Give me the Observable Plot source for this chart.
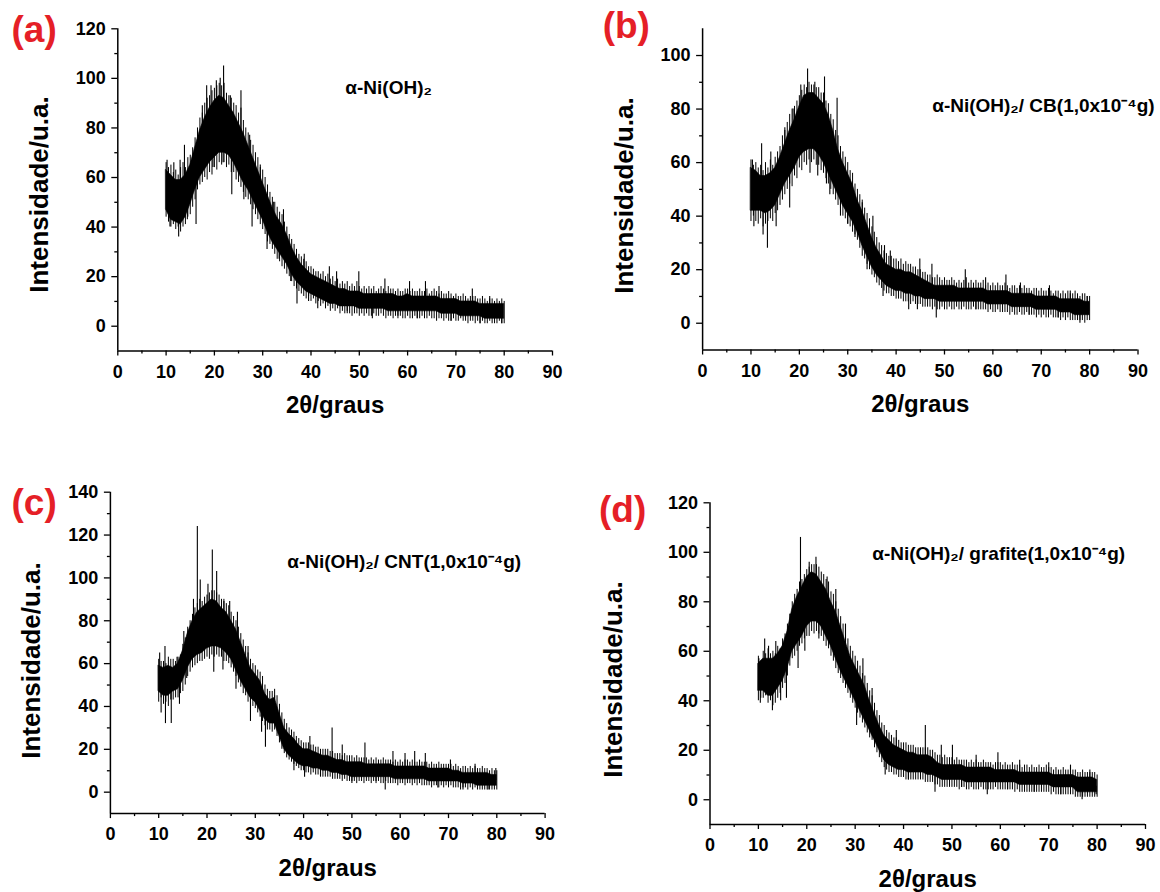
<!DOCTYPE html>
<html><head><meta charset="utf-8">
<script src="https://cdn.jsdelivr.net/npm/d3@7"></script>
<script src="https://cdn.jsdelivr.net/npm/@observablehq/plot@0.6"></script>
<style>
body{margin:0;background:#fff;}
#wrap{position:relative;width:1160px;height:892px;overflow:hidden;background:#fff;}
.panel{position:absolute;}
.panel svg{overflow:visible;}
.panel svg g[aria-label="x-axis tick label"], .panel svg g[aria-label="y-axis tick label"],
.panel svg g[aria-label="x-axis tick label"] text, .panel svg g[aria-label="y-axis tick label"] text{
  font-size:18px !important; font-weight:bold !important; font-family:'Liberation Sans', Arial, sans-serif !important; fill:#000 !important;}
</style></head><body><div id="wrap"></div>
<script>
// ---- shared axis data ----
const degrees = [10,11,12,13,14,15,16,17,18,19,20,21,22,23,24,25,26,27,28,29,30,31,32,33,34,35,36,37,38,39,40,41,42,43,44,45,46,47,48,49,50,51,52,53,54,55,56,57,58,59,60,61,62,63,64,65,66,67,68,69,70,71,72,73,74,75,76,77,78,79,80];
const halfDegrees = [10,10.5,11,11.5,12,12.5,13,13.5,14,14.5,15,15.5,16,16.5,17,17.5,18,18.5,19,19.5,
  20,20.5,21,21.5,22,22.5,23,23.5,24,24.5,25,25.5,26,26.5,27,27.5,28,28.5,29,29.5,
  30,30.5,31,31.5,32,32.5,33,33.5,34,34.5,35,35.5,36,36.5,37,37.5,38,38.5,39,39.5,
  40,40.5,41,41.5,42,42.5,43,43.5,44,44.5,45,45.5,46,46.5,47,47.5,48,48.5,49,49.5,
  50,50.5,51,51.5,52,52.5,53,53.5,54,54.5,55,55.5,56,56.5,57,57.5,58,58.5,59,59.5,
  60,60.5,61,61.5,62,62.5,63,63.5,64,64.5,65,65.5,66,66.5,67,67.5,68,68.5,69,69.5,
  70,70.5,71,71.5,72,72.5,73,73.5,74,74.5,75,75.5,76,76.5,77,77.5,78,78.5,79,79.5,80];
const xTicks = [0,10,20,30,40,50,60,70,80,90];
const xMinorTicks = [5,15,25,35,45,55,65,75,85];
const yTicks120 = [0,20,40,60,80,100,120];
const yMinor120 = [10,30,50,70,90,110];
const yTicks110 = [0,20,40,60,80,100];
const yMinor110 = [10,30,50,70,90];
const yTicks140 = [0,20,40,60,80,100,120,140];
const yMinor140 = [10,30,50,70,90,110,130];
const xLabel = "2θ/graus";
const yLabel = "Intensidade/u.a.";
const panelLetters = ["(a)","(b)","(c)","(d)"];
const sampleNames = ["α-Ni(OH)₂","α-Ni(OH)₂/ CB(1,0x10⁻⁴g)","α-Ni(OH)₂/ CNT(1,0x10⁻⁴g)","α-Ni(OH)₂/ grafite(1,0x10⁻⁴g)"];

// ---- (a) alpha-Ni(OH)2 ----
// dense core of the noise band, per degree
const loA = [47,43,42,41,44,49,55,60,63,66,68,70,70,69,66,62,58,55,51,47,43,38,34,31,28,25,21,18,16,14,13,12,11,10,9,9,8,8,8,8,7,7,7,7,7,7,6,6,6,6,6,6,6,6,6,6,6,5,5,5,5,4,4,4,4,4,3,3,3,3,3];
const hiA = [63,61,59,59,61,65,72,79,84,88,91,93,92,89,86,82,78,73,68,63,58,53,48,44,41,37,32,28,25,23,21,20,19,18,17,16,15,15,14,14,14,13,13,13,13,13,13,13,12,12,13,12,12,12,12,12,12,11,11,11,11,10,10,10,10,9,9,9,9,9,9];
// reach of the noise, per half degree
const topA = [66,64,65,62,63,61,64,66,64,68, 69,72,76,80,84,86,90,92,93,95, 96,97,98,97,98,94,93,92,90,89, 86,88,83,80,78,75,73,70,68,64,
  63,60,57,54,52,50,48,46,45,42, 40,37,35,33,31,29,28,27,26,24, 24,23,22,22,21,22,20,21,19,20, 18,19,17,18,17,18,16,17,16,18,
  16,15,16,15,16,15,16,14,15,16, 15,14,16,15,15,14,15,14,14,15, 15,14,15,14,14,15,14,14,15,13, 14,15,14,13,14,13,13,14,13,12,
  13,12,12,13,12,11,12,12,12,11, 11,12,11,10,11,11,10,11,10,11, 10];
const botA = [44,42,40,41,39,40,38,40,41,44, 45,48,51,55,57,58,60,59,62,61, 64,63,66,65,66,64,65,62,62,59, 58,56,54,52,51,49,47,45,43,41,
  39,37,34,33,31,29,27,26,24,23, 21,20,18,16,15,14,13,12,11,12, 10,11,9,10,8,9,7,8,6,7, 6,7,5,6,5,6,5,4,5,5,
  4,5,4,5,4,4,5,4,4,5, 4,3,4,4,3,4,3,4,3,3, 4,3,3,4,3,3,4,3,3,4, 3,3,2,3,3,2,3,2,2,3,
  2,2,3,2,2,1,2,2,1,2, 1,2,1,1,2,1,1,1,2,1, 1];
const spikesA = [[10.2,67],[10.8,40],[11.6,66],[12.6,36],[12.9,67],[13.8,73],[14.4,43],[16.2,41],[17.5,89],[18.4,97],[19.3,97],[19.7,64],[20.4,99],[21.2,100],[21.8,66],[21.9,105],[23.3,93],[23.6,53],[25.5,95],[26.1,51],[27.3,77],[27.8,40],[29.5,65],[30.9,31],[32.2,50],[33.4,27],[34.3,47],[35.8,18],[37.1,9],[38.6,29],[39.5,10],[41.4,7],[43.8,24],[45.3,22],[47.5,5],[49.9,22],[52.7,3],[55.3,19],[58.0,4],[60.4,18],[62.0,3],[63.7,18],[66.5,16],[69.0,2],[73.4,15],[75.0,1],[77.0,12],[79.5,1]];

// ---- (b) alpha-Ni(OH)2 / CB ----
const loB = [42,42,42,41,42,44,48,52,55,58,62,64,65,65,63,60,56,52,48,44,41,38,34,29,25,21,18,16,14,13,12,12,11,11,10,10,9,9,9,8,8,8,8,8,8,8,8,8,8,7,7,7,7,7,6,6,6,6,6,5,5,5,5,5,4,4,4,3,3,3,3];
const hiB = [58,57,55,55,56,58,62,67,72,76,81,85,86,86,84,82,78,72,65,60,56,52,46,42,37,32,28,25,22,21,20,20,19,19,18,17,16,15,14,14,14,14,14,13,13,13,13,13,13,12,12,12,12,12,11,11,11,11,11,10,10,10,10,10,9,9,9,9,9,8,8];
const topB = [61,59,60,58,59,57,60,58,61,59, 62,64,66,70,72,75,78,80,81,83, 85,87,89,88,90,89,89,88,88,86, 86,83,82,78,76,72,70,66,64,62,
  60,57,56,52,50,48,46,43,41,39, 36,34,32,30,29,27,26,25,25,24, 24,23,24,22,23,22,22,21,21,20, 20,19,19,18,18,17,17,18,17,16,
  17,16,16,17,16,15,16,15,16,17, 15,16,15,16,15,15,16,14,15,14, 15,14,15,14,14,15,14,13,14,14, 13,14,13,14,13,13,12,13,13,12,
  13,12,12,13,12,11,12,12,11,12, 11,12,11,11,12,11,10,11,11,10, 10];
const botB = [38,40,38,37,39,36,37,38,39,38, 41,42,44,46,48,50,52,51,55,54, 58,57,60,59,61,60,61,59,59,57, 56,54,52,50,48,46,44,43,40,39,
  37,36,34,33,31,28,25,24,22,20, 18,17,15,14,13,12,11,11,10,10, 9,9,9,8,8,8,7,8,7,7, 7,6,6,6,6,5,6,5,5,6,
  5,5,6,5,5,6,5,5,6,5, 5,5,6,5,5,5,5,5,4,5, 4,4,5,4,4,4,4,3,4,3, 3,4,3,3,4,3,3,3,2,3,
  2,3,2,2,3,2,2,2,1,2, 1,2,1,1,1,1,1,1,0,1, 1];
const spikesB = [[10.3,61],[10.6,36],[12.2,67],[12.5,33],[13.4,28],[14.1,64],[15.2,36],[17.0,73],[18.0,43],[18.7,80],[20.3,89],[21.7,95],[22.2,56],[23.2,90],[23.8,55],[25.2,92],[25.6,52],[26.3,48],[27.8,84],[28.5,40],[30.0,37],[31.5,32],[33.0,45],[34.0,20],[35.2,40],[37.3,10],[37.6,29],[38.8,27],[42.6,5],[44.4,5],[44.9,24],[47.4,22],[48.3,2],[54.3,20],[56.5,5],[58.5,17],[62.7,18],[65.7,15],[67.5,3],[71.7,14],[73.5,2],[76.0,12],[78.0,0],[79.5,10]];

// ---- (c) alpha-Ni(OH)2 / CNT ----
const loC = [47,45,45,47,48,52,58,62,64,65,67,68,68,67,65,62,57,52,48,44,42,38,34,32,32,26,20,17,15,13,12,12,11,11,10,10,9,9,8,8,7,7,7,7,7,7,7,7,7,6,6,6,6,6,6,6,5,5,5,5,5,5,5,4,4,4,3,3,3,3,3];
const hiC = [59,58,59,58,60,66,74,80,84,86,88,90,89,86,84,80,76,70,64,58,55,52,46,43,44,37,30,27,25,22,20,20,19,18,17,17,16,15,15,14,14,14,14,13,13,13,13,13,13,12,12,12,12,12,12,12,11,11,11,11,11,10,10,9,9,9,9,9,9,8,8];
const topC = [62,61,61,60,63,62,62,61,63,64, 69,72,77,80,83,86,88,90,89,91, 92,93,94,94,93,92,90,90,88,87, 84,82,80,77,74,71,68,65,62,60,
  59,57,56,54,50,48,47,47,48,45, 41,37,34,32,30,29,28,26,25,24, 23,23,23,22,22,21,21,20,20,20, 20,19,19,18,18,18,17,18,17,17,
  17,16,17,16,16,16,16,15,16,15, 16,15,15,16,15,15,15,14,15,14, 15,14,15,15,14,15,14,14,15,14, 14,14,13,14,13,13,14,13,13,13,
  13,13,12,13,12,11,12,12,11,12, 11,12,11,11,12,11,11,10,11,10, 10];
const botC = [42,44,41,42,40,43,43,44,44,46, 47,50,54,56,58,59,60,61,61,62, 63,62,64,63,64,63,63,61,61,60, 58,56,54,51,49,46,45,42,41,40,
  39,37,35,33,31,29,29,28,29,26, 23,20,18,16,15,14,13,12,11,10, 10,9,9,8,9,8,8,8,7,7, 7,7,6,6,6,6,5,6,5,5,
  5,5,4,5,5,4,5,5,4,5, 4,5,4,4,5,4,4,4,4,3, 4,4,3,4,4,3,4,3,4,3, 3,3,3,2,3,3,2,3,2,3,
  2,3,2,2,2,1,2,2,1,2, 1,2,1,1,1,1,1,1,1,1, 1];
const spikesC = [[10.2,65],[10.5,37],[11.3,68],[11.4,32],[12.6,32],[13.8,63],[14.3,41],[15.2,75],[15.8,53],[17.2,90],[18.0,124],[18.6,99],[19.7,70],[20.2,97],[21.1,113],[21.4,56],[22.0,103],[23.3,57],[23.5,89],[24.7,89],[26.0,48],[26.3,84],[28.5,68],[29.0,33],[31.3,28],[32.1,21],[34.0,45],[36.5,27],[38.0,10],[40.2,7],[41.3,26],[43.5,7],[45.9,30],[48.0,22],[50.0,4],[52.7,23],[55.0,5],[56.9,1],[58.5,19],[61.0,18],[63.0,19],[65.2,18],[67.8,2],[70.4,15],[73.0,1],[75.5,13],[78.2,1],[79.8,11]];

// ---- (d) alpha-Ni(OH)2 / grafite ----
const loD = [44,44,42,42,45,48,53,60,63,66,70,72,72,70,66,62,57,52,48,44,40,36,32,28,24,20,16,14,13,12,12,11,11,11,11,10,10,9,8,8,8,8,8,7,7,7,7,7,7,7,7,7,7,7,6,6,6,6,6,6,6,5,5,5,5,5,3,3,3,3,3];
const hiD = [55,57,57,57,59,62,68,77,82,86,90,92,91,88,85,80,76,70,64,58,54,50,46,40,35,30,26,24,22,21,20,19,19,18,18,18,17,15,14,14,14,14,14,13,13,13,13,13,13,12,12,12,12,12,11,11,11,11,11,11,11,10,10,10,10,10,9,9,9,9,8];
const topD = [58,56,60,59,61,59,60,59,62,61, 65,67,71,75,80,83,85,87,89,91, 93,94,95,95,95,94,92,91,89,88, 84,83,80,77,74,71,68,65,62,60,
  58,56,54,51,50,47,44,42,39,36, 34,31,30,28,27,26,25,25,24,23, 23,23,22,22,22,21,21,21,21,21, 21,20,20,19,18,18,17,18,17,17,
  17,16,17,16,16,16,16,15,16,15, 16,15,15,16,15,15,15,14,15,15, 15,14,15,14,14,15,14,14,14,13, 14,14,13,14,13,13,14,13,13,14,
  13,13,12,13,12,12,13,12,12,13, 12,12,11,11,12,11,11,11,11,11, 10];
const botD = [40,41,41,42,39,40,38,39,41,43, 45,47,50,54,57,58,60,62,63,65, 66,66,68,67,68,67,66,64,62,61, 58,56,53,51,49,47,45,43,41,39,
  37,35,33,31,29,27,25,24,21,19, 17,15,13,12,11,11,10,10,9,9, 9,8,8,8,8,8,8,8,8,7, 7,7,7,6,6,5,5,5,5,5,
  5,5,5,4,5,5,4,4,5,4, 4,4,5,4,4,4,4,4,5,4, 4,4,4,4,4,4,3,4,3,3, 3,3,3,3,3,3,3,3,3,3,
  3,2,3,2,2,2,2,2,2,2, 2,1,1,1,1,1,1,1,1,1, 1];
const spikesD = [[10.1,57],[10.4,39],[11.3,65],[12.1,62],[12.9,36],[13.6,64],[14.6,40],[15.8,41],[16.6,75],[18.2,53],[18.5,88],[18.7,106],[19.6,60],[20.5,96],[21.9,98],[22.5,65],[24.2,90],[25.5,62],[26.0,85],[28.0,71],[30.3,30],[31.6,57],[33.5,45],[36.2,10],[38.5,28],[41.0,8],[44.5,30],[46.5,3],[47.8,22],[50.1,22],[52.0,5],[55.0,18],[57.3,2],[59.5,19],[61.5,4],[64.0,16],[67.0,3],[70.0,15],[72.5,2],[74.5,14],[76.9,0],[78.5,12],[79.8,2]];

// ---- layout (pixels) ----
const W = 580, H = 446;
const layout = [
  {left:0,   top:0,   ml:117.3, mr:28,   mt:28.3, mb:95.5, yMax:120, yT:yTicks120, yM:yMinor120,
   lo:loA, hi:hiA, top_:topA, bot:botA, sp:spikesA, letter:[11,41], annot:[344.8,93], yLab:[38.9,194]},
  {left:580, top:0,   ml:122.1, mr:22.5, mt:28.25,mb:96.5, yMax:110, yT:yTicks110, yM:yMinor110,
   lo:loB, hi:hiB, top_:topB, bot:botB, sp:spikesB, letter:[22.2,37.5], annot:[351.7,111.5], yLab:[44.4,195]},
  {left:0,   top:446, ml:109.9, mr:35.4, mt:45.7, mb:78.9, yMax:140, yT:yTicks140, yM:yMinor140,
   lo:loC, hi:hiC, top_:topC, bot:botC, sp:spikesC, letter:[11,68], annot:[286.7,121], yLab:[31.4,214]},
  {left:580, top:446, ml:129.5, mr:15,   mt:56.3, mb:68,   yMax:120, yT:yTicks120, yM:yMinor120,
   lo:loD, hi:hiD, top_:topD, bot:botD, sp:spikesD, letter:[18.5,75], annot:[291.7,113], yLab:[33.3,233]}
];

const font = "'Liberation Sans', Arial, Helvetica, sans-serif";
const wrap = document.getElementById("wrap");

layout.forEach((p, k) => {
  const band = degrees.map((d, i) => ({d, lo: p.lo[i], hi: p.hi[i]}));
  const reach = halfDegrees.map((d, i) => ({d, b: p.bot[i], t: p.top_[i]}));
  const spikes = p.sp.map(([d, v]) => {
    const i = Math.max(0, Math.min(degrees.length - 1, Math.round(d) - degrees[0]));
    return {d, v, base: (p.lo[i] + p.hi[i]) / 2};
  });
  const at = (x, y) => ({frameAnchor: "top-left", dx: x - p.ml, dy: y - p.mt});
  const frameBottom = H - p.mb;
  const frameCx = (p.ml + (W - p.mr)) / 2;

  const chart = Plot.plot({
    width: W, height: H,
    marginLeft: p.ml, marginRight: p.mr, marginTop: p.mt, marginBottom: p.mb,
    x: {domain: [0, 90]},
    y: {domain: [-10, p.yMax]},
    style: {fontFamily: font, fontSize: "18px", fontWeight: "bold", color: "#000", background: "transparent"},
    marks: [
      Plot.areaY(band, {x: "d", y1: "lo", y2: "hi", fill: "#000", stroke: "#000", strokeWidth: 0.6}),
      Plot.ruleX(reach, {x: "d", y1: "b", y2: "t", stroke: "#000", strokeWidth: 1}),
      Plot.ruleX(spikes, {x: "d", y1: "base", y2: "v", stroke: "#000", strokeWidth: 1.1}),
      Plot.axisX(xTicks, {tickSize: 5, tickPadding: 9, strokeWidth: 1.3, fontSize: 18, fontWeight: "bold", label: null}),
      Plot.axisX(xMinorTicks, {tickSize: 3, strokeWidth: 1.3, tickFormat: () => "", label: null}),
      Plot.axisY(p.yT, {tickSize: 6, tickPadding: 6, strokeWidth: 1.3, fontSize: 18, fontWeight: "bold", label: null}),
      Plot.axisY(p.yM, {tickSize: 3, strokeWidth: 1.3, tickFormat: () => "", label: null}),
      Plot.ruleX([0], {stroke: "#000", strokeWidth: 1.5}),
      Plot.ruleY([-10], {stroke: "#000", strokeWidth: 1.5}),
      Plot.text([panelLetters[k]], {text: d => d, ...at(p.letter[0], p.letter[1]), textAnchor: "start", lineAnchor: "bottom",
        fill: "#e51f27", fontSize: 37, fontWeight: "bold"}),
      Plot.text([sampleNames[k]], {text: d => d, ...at(p.annot[0], p.annot[1]), textAnchor: "start", lineAnchor: "bottom",
        fill: "#000", fontSize: 19, fontWeight: "bold"}),
      Plot.text([xLabel], {text: d => d, ...at(frameCx, frameBottom + 62), textAnchor: "middle", lineAnchor: "bottom",
        fill: "#000", fontSize: 24, fontWeight: "bold"}),
      Plot.text([yLabel], {text: d => d, ...at(p.yLab[0], p.yLab[1]), textAnchor: "middle", lineAnchor: "middle", rotate: -90,
        fill: "#000", fontSize: 26, fontWeight: "bold"})
    ]
  });
  const div = document.createElement("div");
  div.className = "panel";
  div.style.left = p.left + "px";
  div.style.top = p.top + "px";
  div.appendChild(chart);
  wrap.appendChild(div);
});
</script></body></html>
